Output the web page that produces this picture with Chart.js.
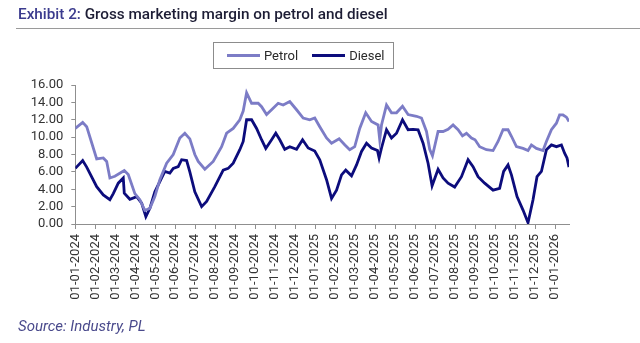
<!DOCTYPE html>
<html>
<head>
<meta charset="utf-8">
<script src="https://cdn.jsdelivr.net/npm/chart.js@4.4.1/dist/chart.umd.min.js"></script>
<style>
  html, body { margin: 0; padding: 0; background: #fff; }
  #page { position: relative; width: 640px; height: 343px; overflow: hidden; font-family: Roboto, "Liberation Sans", sans-serif; }
  #title { position: absolute; left: 18px; top: 5px; font-size: 15.3px; font-weight: 500; color: #1d1d35; white-space: nowrap; }
  #title .tag { color: #3b3b8e; }
  #rule { position: absolute; left: 16px; right: 0; top: 28px; height: 1px; background: #9a9a9a; }
  #legend { position: absolute; left: 213px; top: 42px; width: 181px; height: 27px; box-sizing: border-box;
            border: 1px solid #8c8c8c; display: flex; align-items: center; padding-left: 13px; font-size: 13px; color: #2a2a2a; }
  #legend .item { display: flex; align-items: center; margin-right: 14px; }
  #legend .swatch { width: 33px; height: 3px; margin-right: 4px; }
  #source { position: absolute; left: 18px; top: 317px; font-size: 15px; font-style: italic; color: #4a4a8c; }
  #chartBox { position: absolute; left: 0; top: 0; width: 640px; height: 343px; }
</style>
</head>
<body>
<div id="page">
  <div id="chartBox"><canvas id="marginChart"></canvas></div>
  <div id="title"><span class="tag">Exhibit 2:</span> Gross marketing margin on petrol and diesel</div>
  <div id="rule"></div>
  <div id="legend"></div>
  <div id="source">Source: Industry, PL</div>
</div>
<script>
// month ticks along the x axis (position = month index from Jan 2024)
const monthLabels = [
  "01-01-2024", "01-02-2024", "01-03-2024", "01-04-2024", "01-05-2024", "01-06-2024",
  "01-07-2024", "01-08-2024", "01-09-2024", "01-10-2024", "01-11-2024", "01-12-2024",
  "01-01-2025", "01-02-2025", "01-03-2025", "01-04-2025", "01-05-2025", "01-06-2025",
  "01-07-2025", "01-08-2025", "01-09-2025", "01-10-2025", "01-11-2025", "01-12-2025",
  "01-01-2026"
];

// Petrol margin (Rs/litre), x in months since 01-01-2024
const petrolX = [
  0, 0.37, 0.57, 0.8, 1.07, 1.4, 1.57, 1.73, 1.98, 2.45, 2.65, 2.98, 3.23, 3.48, 3.73, 3.98,
  4.23, 4.57, 4.9, 5.23, 5.48, 5.73, 5.98, 6.15, 6.48, 6.9, 7.32, 7.57, 7.9, 8.23, 8.4, 8.57,
  8.82, 9.15, 9.32, 9.57, 9.82, 10.15, 10.4, 10.73, 11.07, 11.4, 11.73, 11.98, 12.23, 12.57,
  12.82, 13.2, 13.49, 13.73, 13.98, 14.23, 14.53, 14.82, 15.15, 15.23, 15.32, 15.57, 15.82,
  16.07, 16.37, 16.65, 17.07, 17.32, 17.57, 17.73, 17.87, 18.15, 18.4, 18.65, 18.9, 19.15,
  19.37, 19.57, 19.82, 20.0, 20.23, 20.57, 20.9, 21.15, 21.4, 21.65, 21.82, 22.07, 22.4,
  22.65, 22.82, 23.07, 23.4, 23.57, 23.82, 24.07, 24.23, 24.4, 24.57, 24.7
];
const petrol = [
  11.0, 11.7, 11.2, 9.5, 7.5, 7.6, 7.2, 5.3, 5.5, 6.15, 5.7, 3.5, 2.8, 1.55, 1.8, 3.15,
  5.1, 7.0, 8.0, 9.9, 10.45, 9.8, 8.0, 7.2, 6.3, 7.2, 8.9, 10.45, 11.0, 12.0, 13.0, 15.1,
  13.9, 13.9, 13.5, 12.6, 13.15, 13.9, 13.7, 14.1, 13.15, 12.2, 12.0, 12.2, 11.2, 9.9,
  9.3, 9.8, 9.1, 8.55, 8.9, 11.0, 12.8, 11.8, 11.4, 9.7, 11.4, 13.7, 12.8,
  12.8, 13.55, 12.6, 12.4, 12.2, 10.65, 8.6, 7.85, 10.65, 10.65, 10.9, 11.4, 10.85,
  10.15, 10.45, 9.9, 9.7, 8.9, 8.55, 8.45, 9.5, 10.85, 10.85, 10.1, 8.9, 8.7,
  8.45, 9.1, 8.7, 8.45, 9.5, 10.85, 11.6, 12.55, 12.55, 12.3, 11.8
];

// Diesel margin (Rs/litre)
const dieselX = [
  0, 0.37, 0.57, 1.07, 1.4, 1.73, 1.9, 2.15, 2.4, 2.45, 2.73, 3.07, 3.32, 3.53, 3.73, 3.98,
  4.32, 4.48, 4.73, 4.9, 5.15, 5.32, 5.57, 5.73, 5.98, 6.32, 6.57, 6.98, 7.4, 7.65, 7.9,
  8.23, 8.4, 8.57, 8.82, 9.07, 9.32, 9.53, 9.82, 10.03, 10.23, 10.48, 10.73, 11.07, 11.37,
  11.65, 11.98, 12.23, 12.57, 12.82, 13.07, 13.32, 13.53, 13.82, 14.07, 14.32, 14.57, 14.82,
  15.12, 15.2, 15.32, 15.57, 15.82, 16.07, 16.37, 16.65, 16.9, 17.15, 17.4, 17.65, 17.85,
  18.15, 18.4, 18.65, 18.98, 19.32, 19.65, 19.9, 20.15, 20.48, 20.9, 21.23, 21.43, 21.65,
  21.82, 22.1, 22.4, 22.65, 22.9, 23.1, 23.32, 23.57, 23.82, 24.07, 24.32, 24.48, 24.6, 24.7
];
const diesel = [
  6.4, 7.3, 6.55, 4.3, 3.35, 2.8, 3.5, 4.7, 5.3, 3.55, 2.85, 3.15, 2.4, 0.85, 1.8, 3.7,
  5.3, 6.05, 5.85, 6.4, 6.6, 7.4, 7.3, 6.0, 3.7, 2.0, 2.6, 4.3, 6.2, 6.4, 7.0,
  8.55, 9.5, 12.0, 12.0, 11.0, 9.7, 8.7, 9.7, 10.45, 9.7, 8.6, 8.9, 8.6, 9.7,
  8.75, 8.4, 7.4, 5.1, 2.95, 3.9, 5.65, 6.2, 5.55, 6.8, 8.35, 9.3, 8.75,
  8.45, 7.6, 8.75, 10.85, 9.9, 10.45, 12.0, 10.85, 10.9, 10.85, 9.3, 7.0, 4.4,
  6.3, 5.3, 4.7, 4.25, 5.45, 7.4, 6.6, 5.45, 4.7, 3.9, 4.1, 6.05, 6.8,
  5.65, 3.15, 1.6, 0.15, 2.8, 5.45, 6.05, 8.55, 9.1, 8.9, 9.1, 8.15, 7.6, 6.55
];

const series = [
  { label: "Petrol", xs: petrolX, ys: petrol, color: "#7c7cc6" },
  { label: "Diesel", xs: dieselX, ys: diesel, color: "#0c0c7c" }
];

const axisGrey = "#8f8f8f";
const tickFont = { family: "Roboto, 'Liberation Sans', sans-serif", size: 13 };

// legend box above the plot
const legendEl = document.getElementById("legend");
series.forEach((s) => {
  const item = document.createElement("div");
  item.className = "item";
  item.innerHTML = `<span class="swatch" style="background:${s.color}"></span><span>${s.label}</span>`;
  legendEl.appendChild(item);
});

new Chart(document.getElementById("marginChart"), {
  type: "line",
  data: {
    datasets: series.map((s) => ({
      label: s.label,
      data: s.xs.map((x, i) => ({ x, y: s.ys[i] })),
      borderColor: s.color,
      backgroundColor: s.color,
      borderWidth: 2.8,
      pointRadius: 0,
      tension: 0,
      fill: false
    }))
  },
  options: {
    responsive: true,
    maintainAspectRatio: false,
    animation: false,
    layout: { padding: { top: 85, right: 71, bottom: 29, left: 0 } },
    plugins: { legend: { display: false }, tooltip: { enabled: false } },
    scales: {
      x: {
        type: "linear",
        min: 0,
        max: 24.7,
        afterBuildTicks: (scale) => {
          scale.ticks = monthLabels.map((_, i) => ({ value: i }));
        },
        afterFit: (scale) => { scale.height = 90; },
        ticks: {
          autoSkip: false,
          minRotation: 90,
          maxRotation: 90,
          padding: 5,
          color: "#333",
          font: tickFont,
          callback: (v) => monthLabels[v]
        },
        grid: { drawOnChartArea: false, drawTicks: true, tickLength: 5, color: axisGrey },
        border: { display: true, color: axisGrey }
      },
      y: {
        min: 0,
        max: 16,
        afterFit: (scale) => { scale.width = 75.3; },
        ticks: {
          stepSize: 2,
          autoSkip: false,
          padding: 8,
          color: "#333",
          font: tickFont,
          callback: (v) => v.toFixed(2)
        },
        grid: { drawOnChartArea: false, drawTicks: true, tickLength: 4, color: axisGrey },
        border: { display: true, color: axisGrey }
      }
    }
  }
});
</script>
</body>
</html>
